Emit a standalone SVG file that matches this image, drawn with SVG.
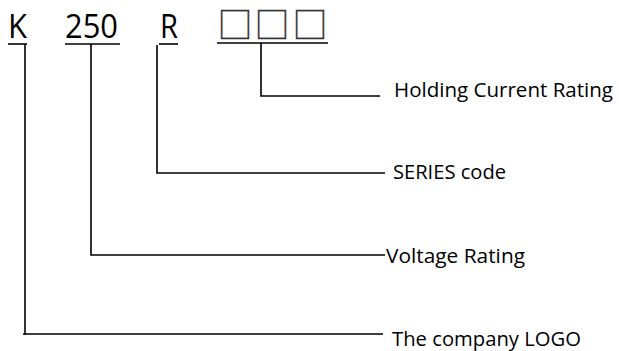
<svg xmlns="http://www.w3.org/2000/svg" width="619" height="351" viewBox="0 0 619 351">
<style>
.big{font-family:"Open Sans","Liberation Sans",sans-serif;font-size:32px;fill:#000}
.box{font-family:"Noto Sans CJK SC","DejaVu Sans",sans-serif;font-size:35px;fill:#333;stroke:#333;stroke-width:0.3;text-anchor:middle}
.lbl{font-family:"Open Sans","Liberation Sans",sans-serif;font-size:20px;fill:#000}
.ul{stroke:#000;stroke-width:1.6;fill:none}
.con{stroke:#000;stroke-width:1.6;fill:none}
</style>
<rect width="619" height="351" fill="#fff"/>
<g id="code-K">
<text class="big" x="8" y="38" textLength="19" lengthAdjust="spacingAndGlyphs">K</text>
<line class="ul" x1="8" y1="44" x2="27" y2="44"/>
</g>
<g id="code-250">
<text class="big" x="65" y="38" textLength="53" lengthAdjust="spacingAndGlyphs">250</text>
<line class="ul" x1="65" y1="44" x2="120" y2="44"/>
</g>
<g id="code-R">
<text class="big" x="160" y="38" textLength="18" lengthAdjust="spacingAndGlyphs">R</text>
<line class="ul" x1="159" y1="44" x2="178" y2="44"/>
</g>
<g id="code-boxes">
<text class="box" x="235" y="38">□</text>
<text class="box" x="272" y="38">□</text>
<text class="box" x="310" y="38">□</text>
<line class="ul" x1="217" y1="43" x2="328" y2="43"/>
</g>
<g id="label-holding">
<text class="lbl" x="394" y="97" textLength="219" lengthAdjust="spacingAndGlyphs">Holding Current Rating</text>
</g>
<g id="label-series">
<text class="lbl" x="393" y="179" textLength="113" lengthAdjust="spacingAndGlyphs">SERIES code</text>
</g>
<g id="label-voltage">
<text class="lbl" x="386" y="263" textLength="139" lengthAdjust="spacingAndGlyphs">Voltage Rating</text>
</g>
<g id="label-logo">
<text class="lbl" x="392" y="346" textLength="189" lengthAdjust="spacingAndGlyphs">The company LOGO</text>
</g>
<g id="connectors">
<path class="con" d="M261 43 V96 H380"/>
<path class="con" d="M157 45 V173 H385"/>
<path class="con" d="M91 44 V255 H385"/>
<path class="con" d="M25 44 V335 M23 334 H383"/>
</g>
</svg>
